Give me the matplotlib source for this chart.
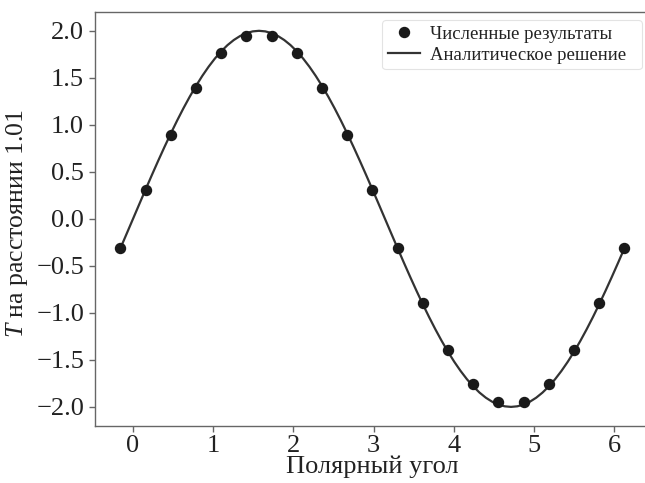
import numpy as np
import matplotlib
matplotlib.use("Agg")
import matplotlib.pyplot as plt

plt.rcParams['font.family'] = ['Liberation Serif', 'DejaVu Serif']
plt.rcParams['mathtext.fontset'] = 'custom'
plt.rcParams['mathtext.rm'] = 'Liberation Serif'
plt.rcParams['mathtext.it'] = 'Liberation Serif:italic'

# Numerical results (points)
num_angle = [-0.157, 0.157, 0.471, 0.785, 1.100, 1.414, 1.728, 2.042, 2.356, 2.670,
             2.985, 3.299, 3.613, 3.927, 4.241, 4.555, 4.869, 5.184, 5.498, 5.812, 6.126]
num_T = [-0.31, 0.31, 0.895, 1.39, 1.76, 1.95, 1.95, 1.76, 1.39, 0.895,
         0.31, -0.31, -0.895, -1.39, -1.76, -1.95, -1.95, -1.76, -1.39, -0.895, -0.31]

# Analytic solution (line samples)
line_T = [-0.3129, -0.1569, 0.0, 0.1569, 0.3129, 0.4669, 0.6180, 0.7654, 0.9080, 1.0450,
          1.1756, 1.2989, 1.4142, 1.5208, 1.6180, 1.7053, 1.7820, 1.8478, 1.9021, 1.9447,
          1.9754, 1.9938, 2.0,
          1.9938, 1.9754, 1.9447, 1.9021, 1.8478, 1.7820, 1.7053, 1.6180, 1.5208, 1.4142,
          1.2989, 1.1756, 1.0450, 0.9080, 0.7654, 0.6180, 0.4669, 0.3129, 0.1569, 0.0,
          -0.1569, -0.3129, -0.4669, -0.6180, -0.7654, -0.9080, -1.0450, -1.1756, -1.2989, -1.4142,
          -1.5208, -1.6180, -1.7053, -1.7820, -1.8478, -1.9021, -1.9447, -1.9754, -1.9938, -2.0,
          -1.9938, -1.9754, -1.9447, -1.9021, -1.8478, -1.7820, -1.7053, -1.6180, -1.5208, -1.4142,
          -1.2989, -1.1756, -1.0450, -0.9080, -0.7654, -0.6180, -0.4669, -0.3129]
line_angle = np.linspace(-0.157, 6.126, len(line_T))

x_ticks = [0, 1, 2, 3, 4, 5, 6]
y_ticks = [-2.0, -1.5, -1.0, -0.5, 0.0, 0.5, 1.0, 1.5, 2.0]

fig = plt.figure(figsize=(6.45, 4.83), dpi=100)
ax = fig.add_axes([94.5/645, 1 - 425.7/483, (649.6 - 94.5)/645, (425.7 - 12)/483])

ax.plot(num_angle, num_T, 'o', color='#1a1a1a', markersize=7.2, label='Численные результаты', zorder=3)
ax.plot(line_angle, line_T, '-', color='#333333', linewidth=1.6, label='Аналитическое решение', zorder=2)

ax.set_xlim(-0.48, 6.44)
ax.set_ylim(-2.2, 2.2)
ax.set_xticks(x_ticks)
ax.set_yticks(y_ticks)
ax.set_yticklabels([f"{v:.1f}".replace('-', '\u2212') for v in y_ticks])

for s in ax.spines.values():
    s.set_color('#666666')
    s.set_linewidth(1.0)
ax.tick_params(axis='both', colors='#666666', labelcolor='#222222', labelsize=19, length=4, width=1.0)
ax.tick_params(axis='x', pad=2.5)

ax.set_xlabel('Полярный угол', fontsize=19, color='#222222', labelpad=-1)
ax.set_ylabel('$T$ на расстоянии 1.01', fontsize=18.5, color='#222222')
ax.yaxis.set_label_coords((30 - 94.5) / 555.1, 0.488)

leg = ax.legend(loc='upper left',
                bbox_to_anchor=(382/645, 1 - 71/483, 260/645, 51/483),
                bbox_transform=fig.transFigure, mode='expand', borderaxespad=0,
                fontsize=13.5, frameon=True, fancybox=True,
                handlelength=1.7, handletextpad=0.55, borderpad=0.3, labelspacing=0.2)
leg.get_frame().set_edgecolor('#dddddd')
leg.get_frame().set_linewidth(0.8)
for t in leg.get_texts():
    t.set_color('#222222')

fig.savefig('out.png', dpi=100)
